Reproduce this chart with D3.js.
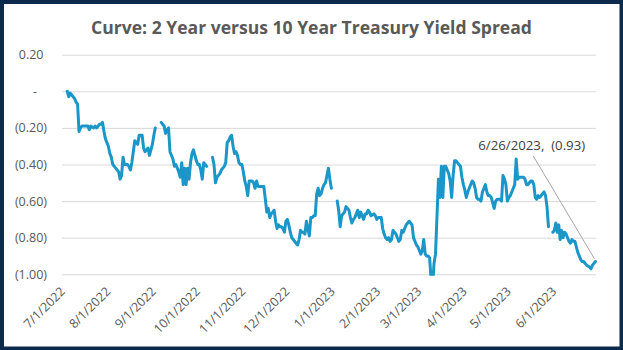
<!DOCTYPE html>
<html><head><meta charset="utf-8">
<script src="https://cdn.jsdelivr.net/npm/d3@7"></script>
<style>html,body{margin:0;padding:0;background:#fff;overflow:hidden}svg{display:block}</style>
</head><body><svg id="c" width="623" height="350"></svg>
<script>
const titleText = "Curve: 2 Year versus 10 Year Treasury Yield Spread";

const dates = [
"2022-07-01","2022-07-02","2022-07-03","2022-07-04","2022-07-06","2022-07-07","2022-07-08","2022-07-09","2022-07-10","2022-07-11","2022-07-13","2022-07-15","2022-07-16","2022-07-17","2022-07-19","2022-07-20","2022-07-21","2022-07-23","2022-07-24","2022-07-25","2022-07-26","2022-07-27","2022-07-29","2022-07-30","2022-07-31",
"2022-08-01","2022-08-03","2022-08-04","2022-08-05","2022-08-06","2022-08-07","2022-08-08","2022-08-09","2022-08-10","2022-08-11","2022-08-12","2022-08-13","2022-08-14","2022-08-15","2022-08-16","2022-08-17","2022-08-18","2022-08-19","2022-08-21","2022-08-22","2022-08-23","2022-08-24","2022-08-25","2022-08-26","2022-08-28","2022-08-29","2022-08-30",
"2022-09-01","2022-09-03","2022-09-04","2022-09-05","2022-09-06","2022-09-07","2022-09-08","2022-09-09","2022-09-11","2022-09-12","2022-09-13","2022-09-14","2022-09-15","2022-09-16","2022-09-17","2022-09-18","2022-09-19","2022-09-20","2022-09-21","2022-09-22","2022-09-23","2022-09-24","2022-09-25","2022-09-27","2022-09-28","2022-09-29","2022-09-30",
"2022-10-01","2022-10-02","2022-10-03","2022-10-04","2022-10-06","2022-10-08","2022-10-09","2022-10-10","2022-10-11","2022-10-13","2022-10-14","2022-10-16","2022-10-17","2022-10-18","2022-10-19","2022-10-20","2022-10-21","2022-10-22","2022-10-23","2022-10-24","2022-10-25","2022-10-26","2022-10-27","2022-10-28","2022-10-29","2022-10-30","2022-10-31",
"2022-11-01","2022-11-02","2022-11-03","2022-11-04","2022-11-05","2022-11-06","2022-11-07","2022-11-08","2022-11-09","2022-11-11","2022-11-12","2022-11-13","2022-11-14","2022-11-15","2022-11-16","2022-11-17","2022-11-18","2022-11-19","2022-11-20","2022-11-21","2022-11-22","2022-11-23","2022-11-24","2022-11-25","2022-11-26","2022-11-27","2022-11-28","2022-11-29","2022-11-30",
"2022-12-01","2022-12-02","2022-12-04","2022-12-05","2022-12-06","2022-12-07","2022-12-08","2022-12-09","2022-12-10","2022-12-11","2022-12-12","2022-12-13","2022-12-14","2022-12-15","2022-12-16","2022-12-17","2022-12-18","2022-12-19","2022-12-20","2022-12-21","2022-12-22","2022-12-23","2022-12-24","2022-12-25","2022-12-26","2022-12-27","2022-12-28","2022-12-30",
"2023-01-01","2023-01-02","2023-01-03","2023-01-04","2023-01-05","2023-01-06","2023-01-07","2023-01-09","2023-01-10","2023-01-11","2023-01-12","2023-01-13","2023-01-14","2023-01-15","2023-01-16","2023-01-17","2023-01-19","2023-01-20","2023-01-21","2023-01-22","2023-01-23","2023-01-24","2023-01-26","2023-01-27","2023-01-28","2023-01-29","2023-01-30","2023-01-31",
"2023-02-01","2023-02-02","2023-02-03","2023-02-04","2023-02-05","2023-02-06","2023-02-07","2023-02-08","2023-02-09","2023-02-10","2023-02-11","2023-02-12","2023-02-13","2023-02-14","2023-02-15","2023-02-16","2023-02-17","2023-02-18","2023-02-19","2023-02-21","2023-02-22","2023-02-23","2023-02-24","2023-02-25","2023-02-26","2023-02-27","2023-02-28",
"2023-03-01","2023-03-02","2023-03-03","2023-03-04","2023-03-05","2023-03-06","2023-03-07","2023-03-08","2023-03-09","2023-03-11","2023-03-12","2023-03-13","2023-03-14","2023-03-15","2023-03-16","2023-03-17","2023-03-18","2023-03-19","2023-03-20","2023-03-21","2023-03-22","2023-03-23","2023-03-24","2023-03-25","2023-03-26","2023-03-27","2023-03-28","2023-03-29","2023-03-30","2023-03-31",
"2023-04-01","2023-04-03","2023-04-04","2023-04-05","2023-04-06","2023-04-07","2023-04-08","2023-04-09","2023-04-10","2023-04-12","2023-04-13","2023-04-14","2023-04-15","2023-04-16","2023-04-17","2023-04-18","2023-04-19","2023-04-20","2023-04-21","2023-04-22","2023-04-23","2023-04-24","2023-04-25","2023-04-26","2023-04-27","2023-04-28","2023-04-29","2023-04-30",
"2023-05-01","2023-05-02","2023-05-03","2023-05-04","2023-05-05","2023-05-06","2023-05-07","2023-05-08","2023-05-09","2023-05-10","2023-05-11","2023-05-12","2023-05-13","2023-05-14","2023-05-15","2023-05-16","2023-05-17","2023-05-18","2023-05-19","2023-05-21","2023-05-22","2023-05-23","2023-05-24","2023-05-25","2023-05-27","2023-05-28","2023-05-29","2023-05-30","2023-05-31",
"2023-06-01","2023-06-02","2023-06-03","2023-06-04","2023-06-05","2023-06-06","2023-06-07","2023-06-08","2023-06-09","2023-06-10","2023-06-11","2023-06-12","2023-06-13","2023-06-14","2023-06-15","2023-06-16","2023-06-17","2023-06-18","2023-06-19","2023-06-20","2023-06-22","2023-06-23","2023-06-24","2023-06-25","2023-06-26"
];

const spread = [
0.00,-0.03,-0.01,-0.02,-0.04,-0.06,-0.07,-0.22,-0.20,-0.19,-0.19,-0.19,-0.21,-0.19,-0.20,-0.19,-0.20,-0.18,-0.18,-0.17,-0.22,-0.26,-0.30,-0.34,-0.36,
-0.40,-0.42,-0.43,-0.44,-0.48,-0.46,-0.36,-0.40,-0.40,-0.40,-0.41,-0.43,-0.39,-0.33,-0.27,-0.28,-0.29,-0.24,-0.24,-0.31,-0.33,-0.32,-0.31,-0.35,-0.29,-0.24,-0.20,
null,-0.17,-0.18,-0.19,-0.23,-0.21,-0.20,-0.33,-0.37,-0.41,-0.40,-0.42,-0.44,-0.47,-0.39,-0.51,-0.42,-0.51,-0.42,-0.48,-0.39,-0.34,-0.32,-0.38,-0.40,-0.40,-0.43,
-0.48,-0.39,-0.40,-0.41,null,-0.36,-0.40,-0.50,-0.47,-0.45,-0.43,-0.41,-0.39,-0.28,-0.27,-0.25,-0.24,-0.30,-0.34,-0.33,-0.35,-0.39,-0.40,-0.40,-0.44,-0.49,-0.52,
-0.57,-0.49,-0.49,-0.49,-0.50,-0.53,-0.49,-0.52,-0.52,-0.52,-0.52,-0.59,-0.66,-0.64,-0.69,-0.67,-0.66,-0.65,-0.71,-0.75,-0.73,-0.74,-0.74,-0.75,-0.77,-0.71,-0.70,-0.73,-0.77,
-0.80,-0.81,-0.83,-0.84,-0.81,-0.76,-0.77,-0.77,-0.78,-0.71,-0.75,-0.79,-0.69,-0.69,-0.68,-0.68,-0.56,-0.53,-0.57,-0.56,-0.53,-0.51,-0.50,-0.46,-0.42,-0.48,-0.53,null,
-0.60,-0.65,-0.74,-0.68,-0.67,-0.66,-0.63,-0.65,-0.69,-0.72,-0.70,-0.69,-0.67,-0.65,-0.69,-0.66,-0.70,-0.67,-0.67,-0.65,-0.66,-0.68,-0.67,-0.68,-0.70,-0.69,-0.69,-0.69,
-0.75,-0.78,-0.80,-0.81,-0.80,-0.82,-0.81,-0.76,-0.77,-0.78,-0.80,-0.82,-0.81,-0.76,-0.77,-0.75,-0.73,-0.72,-0.71,-0.73,-0.80,-0.82,-0.84,-0.85,-0.87,-0.89,-0.87,
-0.81,-0.89,-0.90,-0.90,-0.91,-1.03,-1.07,-0.94,-0.89,-0.48,-0.58,-0.41,-0.58,-0.41,-0.41,-0.43,-0.45,-0.49,-0.58,-0.46,-0.38,-0.38,-0.39,-0.40,-0.41,-0.47,-0.51,-0.54,-0.58,-0.55,
-0.53,-0.49,-0.50,-0.53,-0.58,-0.59,-0.59,-0.60,-0.55,-0.51,-0.55,-0.57,-0.57,-0.58,-0.61,-0.64,-0.60,-0.59,-0.59,-0.59,-0.60,-0.46,-0.48,-0.51,-0.60,-0.58,-0.57,-0.55,
-0.53,-0.51,-0.37,-0.48,-0.47,-0.47,-0.47,-0.47,-0.48,-0.51,-0.51,-0.50,-0.49,-0.49,-0.51,-0.58,-0.59,-0.57,-0.58,-0.56,-0.55,-0.57,-0.63,-0.74,null,-0.77,-0.76,-0.72,-0.77,
-0.73,-0.81,-0.76,-0.80,-0.77,-0.78,-0.80,-0.82,-0.83,-0.81,-0.82,-0.82,-0.85,-0.88,-0.90,-0.92,-0.93,-0.93,-0.94,-0.95,-0.96,-0.97,-0.95,-0.94,-0.93
];

const yTicks = [0.2, 0, -0.2, -0.4, -0.6, -0.8, -1.0];
const yTickLabels = ["0.20", "-", "(0.20)", "(0.40)", "(0.60)", "(0.80)", "(1.00)"];
const xTickDates = ["2022-07-01","2022-08-01","2022-09-01","2022-10-01","2022-11-01","2022-12-01","2023-01-01","2023-02-01","2023-03-01","2023-04-01","2023-05-01","2023-06-01"];
const xTickLabels = ["7/1/2022","8/1/2022","9/1/2022","10/1/2022","11/1/2022","12/1/2022","1/1/2023","2/1/2023","3/1/2023","4/1/2023","5/1/2023","6/1/2023"];
const annotationText = "6/26/2023,  (0.93)";

const W = 623, H = 350;
const parse = d3.timeParse("%Y-%m-%d");
const data = dates.map((d, i) => ({ date: parse(d), v: spread[i] }));
if (data.length !== spread.length || dates.length !== spread.length) console.error("length mismatch", dates.length, spread.length);

const plot = { left: 62, right: 596, top: 54.7, bottom: 274.3 };
const x = d3.scaleTime().domain([parse("2022-07-01"), parse("2023-06-26")]).range([67.3, 595.4]);
const y = d3.scaleLinear().domain([-1, 0.2]).range([plot.bottom, plot.top]);

const svg = d3.select("#c");
const font = "'Open Sans', 'Liberation Sans', sans-serif";

// frame
svg.append("rect").attr("x", 0).attr("y", 0).attr("width", W).attr("height", H).attr("fill", "#0c2a4c");
svg.append("rect").attr("x", 4).attr("y", 4).attr("width", W - 7.5).attr("height", H - 7.5).attr("fill", "#ffffff");

// title
const title = svg.append("text").attr("x", 311.5).attr("y", 33.5).attr("text-anchor", "middle")
  .attr("font-family", font).attr("font-weight", "bold").attr("font-size", 18).attr("fill", "#595959").text(titleText);
{
  const w = title.node().getComputedTextLength();
  title.attr("font-size", 18 * 441 / w);
}

// gridlines
const grid = svg.append("g").attr("transform", `translate(${plot.left},0)`)
  .call(d3.axisLeft(y).tickValues(yTicks).tickSize(-(plot.right - plot.left)).tickFormat(""));
grid.select(".domain").remove();
grid.selectAll(".tick line").attr("stroke", "#d9d9d9").attr("stroke-width", 1);

// y labels
const yl = svg.append("g");
yTicks.forEach((t, i) => {
  const lab = yTickLabels[i];
  const xr = lab.startsWith("(") ? 47 : (lab === "-" ? 37 : 43.5);
  yl.append("text").attr("x", xr).attr("y", y(t)).attr("dy", "0.36em").attr("text-anchor", "end")
    .attr("font-family", font).attr("font-size", 12.5).attr("fill", "#595959").text(lab);
});

// x axis labels
const xa = svg.append("g").attr("transform", `translate(0,${plot.bottom})`)
  .call(d3.axisBottom(x).tickValues(xTickDates.map(parse)).tickSize(0).tickFormat((d, i) => xTickLabels[i]));
xa.select(".domain").remove();
xa.selectAll(".tick text")
  .attr("x", 0).attr("y", 0).attr("dy", 0)
  .attr("transform", "translate(-2,18) rotate(-45)")
  .attr("text-anchor", "end")
  .attr("font-family", font).attr("font-size", 12.5).attr("fill", "#595959");

// clip
svg.append("clipPath").attr("id", "pc").append("rect")
  .attr("x", plot.left - 5).attr("y", plot.top - 5).attr("width", plot.right - plot.left + 10).attr("height", plot.bottom - plot.top + 6.5);

// line
const line = d3.line().defined(d => d.v !== null).x(d => x(d.date)).y(d => y(d.v));
svg.append("path").datum(data).attr("clip-path", "url(#pc)")
  .attr("d", line).attr("fill", "none").attr("stroke", "#1a96c8").attr("stroke-width", 3)
  .attr("stroke-linejoin", "round").attr("stroke-linecap", "round");

// annotation
const last = data[data.length - 1];
const px = x(last.date), py = y(last.v);
svg.append("line").attr("x1", 533.3).attr("y1", 156).attr("x2", px - 1).attr("y2", py - 2.8)
  .attr("stroke", "#a6a6a6").attr("stroke-width", 1);
const ann = svg.append("text").attr("x", 478.3).attr("y", 149.5).attr("font-family", font)
  .attr("font-size", 13).attr("fill", "#404040").attr("xml:space", "preserve").style("white-space", "pre").text(annotationText);
{
  const w = ann.node().getComputedTextLength();
  ann.attr("font-size", 13 * 107 / w);
}
</script></body></html>
